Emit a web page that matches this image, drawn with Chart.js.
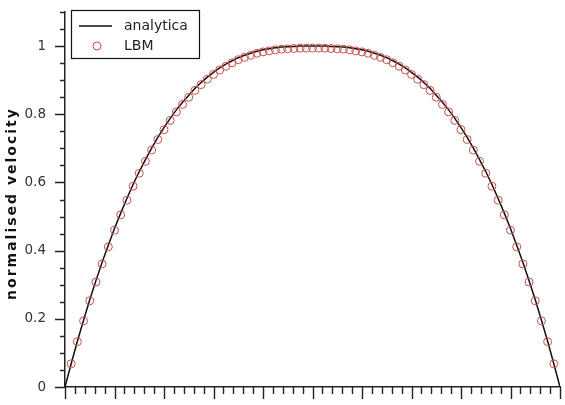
<!DOCTYPE html>
<html>
<head>
<meta charset="utf-8">
<script src="https://cdn.jsdelivr.net/npm/chart.js@4"></script>
<style>
  html, body { margin: 0; padding: 0; background: #fff; }
  #wrap { position: relative; width: 565px; height: 405px; }
</style>
</head>
<body>
<div id="wrap"><canvas id="c"></canvas></div>
<script>
/* velocity profile across the channel: analytic solution vs LBM nodes.
   x is the lattice node index (0..80, walls at 0 and 80). */
var xLine = [0,1,2,3,4,5,6,7,8,9,10,11,12,13,14,15,16,17,18,19,20,21,22,23,24,25,26,27,28,29,30,31,32,33,34,35,36,37,38,39,40,
  41,42,43,44,45,46,47,48,49,50,51,52,53,54,55,56,57,58,59,60,61,62,63,64,65,66,67,68,69,70,71,72,73,74,75,76,77,78,79,80];
var analytica = [0, 0.068, 0.134, 0.196, 0.256, 0.312, 0.366, 0.416, 0.465, 0.510, 0.553, 0.594, 0.632, 0.667, 0.701, 0.732,
  0.761, 0.788, 0.813, 0.835, 0.856, 0.876, 0.893, 0.909, 0.923, 0.936, 0.947, 0.957, 0.966, 0.973, 0.979, 0.985, 0.989,
  0.992, 0.995, 0.997, 0.998, 0.999, 1.000, 1.000, 1.000,
  1.000, 1.000, 0.999, 0.998, 0.997, 0.995, 0.992, 0.989, 0.985, 0.979, 0.973, 0.966, 0.957, 0.947, 0.936, 0.923, 0.909,
  0.893, 0.876, 0.856, 0.835, 0.813, 0.788, 0.761, 0.732, 0.701, 0.667, 0.632, 0.594, 0.553, 0.510, 0.465, 0.416, 0.366,
  0.312, 0.256, 0.196, 0.134, 0.068, 0];
var xLBM = [1,2,3,4,5,6,7,8,9,10,11,12,13,14,15,16,17,18,19,20,21,22,23,24,25,26,27,28,29,30,31,32,33,34,35,36,37,38,39,40,
  41,42,43,44,45,46,47,48,49,50,51,52,53,54,55,56,57,58,59,60,61,62,63,64,65,66,67,68,69,70,71,72,73,74,75,76,77,78,79];
var lbm = [0.068, 0.133, 0.194, 0.253, 0.308, 0.361, 0.411, 0.460, 0.505, 0.548, 0.589, 0.627, 0.662, 0.695, 0.726, 0.755,
  0.782, 0.807, 0.829, 0.850, 0.870, 0.887, 0.903, 0.917, 0.930, 0.941, 0.951, 0.960, 0.967, 0.973, 0.979, 0.983, 0.986,
  0.989, 0.991, 0.992, 0.993, 0.994, 0.994, 0.994,
  0.994, 0.994, 0.993, 0.992, 0.991, 0.989, 0.986, 0.983, 0.979, 0.973, 0.967, 0.960, 0.951, 0.941, 0.930, 0.917, 0.903,
  0.887, 0.870, 0.850, 0.829, 0.807, 0.782, 0.755, 0.726, 0.695, 0.662, 0.627, 0.589, 0.548, 0.505, 0.460, 0.411, 0.361,
  0.308, 0.253, 0.194, 0.133, 0.068];
var yTickValues = [0, 0.2, 0.4, 0.6, 0.8, 1];
var yTickLabels = ['0', '0.2', '0.4', '0.6', '0.8', '1'];
var legendLabels = ['analytica', 'LBM'];
var yTitle = 'normalised velocity';

var INK = '#222';
var RED = '#c9504c';

function pts(xs, ys) {
  return xs.map(function (x, i) { return { x: x, y: ys[i] }; });
}

/* tick marks (majors longer, pointing outward), the y title and the boxed legend */
var decor = {
  id: 'decor',
  afterDraw: function (chart) {
    var ctx = chart.ctx, xs = chart.scales.x, ys = chart.scales.y;
    var ax = xs.left, ay = ys.bottom;
    ctx.save();
    ctx.strokeStyle = INK;
    ctx.lineWidth = 1.4;
    ctx.beginPath();
    for (var j = 0; j <= 22; j++) {
      var py = Math.round(ys.getPixelForValue(j * 0.05)) + 0.5;
      var len = (j % 4 === 0) ? 10 : 5;
      ctx.moveTo(ax, py); ctx.lineTo(ax - len, py);
    }
    for (var k = 0; k <= 50; k++) {
      var px = Math.round(xs.getPixelForValue(k * 1.6)) + 0.5;
      var l2 = (k % 5 === 0) ? 12 : 7;
      ctx.moveTo(px, ay); ctx.lineTo(px, ay + l2);
    }
    ctx.stroke();

    // y title, wide-set like the original
    ctx.save();
    ctx.translate(12, (ys.top + ys.bottom) / 2 + 4);
    ctx.rotate(-Math.PI / 2);
    ctx.fillStyle = '#111';
    ctx.font = 'bold 14px "DejaVu Sans", sans-serif';
    if ('letterSpacing' in ctx) { ctx.letterSpacing = '2px'; }
    ctx.textAlign = 'center';
    ctx.textBaseline = 'middle';
    ctx.fillText(yTitle, 0, 0);
    ctx.restore();

    // legend box
    ctx.fillStyle = '#fff';
    ctx.fillRect(71, 10, 129, 49);
    ctx.lineWidth = 1.2;
    ctx.strokeStyle = '#111';
    ctx.strokeRect(71.5, 10.5, 128, 48);
    ctx.beginPath();
    ctx.lineWidth = 1.5;
    ctx.moveTo(79, 26); ctx.lineTo(112, 26);
    ctx.stroke();
    ctx.beginPath();
    ctx.strokeStyle = RED;
    ctx.lineWidth = 1;
    ctx.arc(97, 46, 4, 0, Math.PI * 2);
    ctx.stroke();
    ctx.fillStyle = INK;
    ctx.font = '14px "DejaVu Sans", sans-serif';
    ctx.textBaseline = 'middle';
    ctx.textAlign = 'left';
    ctx.fillText(legendLabels[0], 124, 26);
    ctx.fillText(legendLabels[1], 124, 46);
    ctx.restore();
  }
};

new Chart(document.getElementById('c'), {
  type: 'scatter',
  data: {
    datasets: [{
      label: legendLabels[0],
      type: 'line',
      data: pts(xLine, analytica),
      borderColor: '#111',
      borderWidth: 1.5,
      pointRadius: 0,
      tension: 0,
      fill: false,
      order: 2
    }, {
      label: legendLabels[1],
      data: pts(xLBM, lbm),
      pointStyle: 'circle',
      pointRadius: 4,
      pointBorderWidth: 1,
      pointBorderColor: RED,
      pointBackgroundColor: 'rgba(0,0,0,0)',
      showLine: false,
      order: 1
    }]
  },
  options: {
    responsive: true,
    maintainAspectRatio: false,
    animation: false,
    devicePixelRatio: 1,
    layout: { padding: { top: 12, right: 3, left: 0, bottom: 0 } },
    plugins: { legend: { display: false }, tooltip: { enabled: false } },
    scales: {
      x: {
        type: 'linear', min: 0, max: 80,
        ticks: { display: false },
        grid: { display: true, drawOnChartArea: false, drawTicks: false },
        border: { display: true, color: INK, width: 1.5 },
        afterFit: function (s) { s.height = 18; s.paddingLeft = 0; s.paddingRight = 0; }
      },
      y: {
        type: 'linear', min: 0, max: 1.1,
        afterBuildTicks: function (s) { s.ticks = yTickValues.map(function (v) { return { value: v }; }); },
        ticks: {
          padding: 19,
          color: '#333',
          font: { family: '"DejaVu Sans", sans-serif', size: 13.5 },
          callback: function (v, i) { return yTickLabels[i]; }
        },
        grid: { display: true, drawOnChartArea: false, drawTicks: false },
        border: { display: true, color: INK, width: 1.5 },
        afterFit: function (s) { s.width = 65; s.paddingTop = 0; s.paddingBottom = 0; }
      }
    }
  },
  plugins: [decor]
});
</script>
</body>
</html>
